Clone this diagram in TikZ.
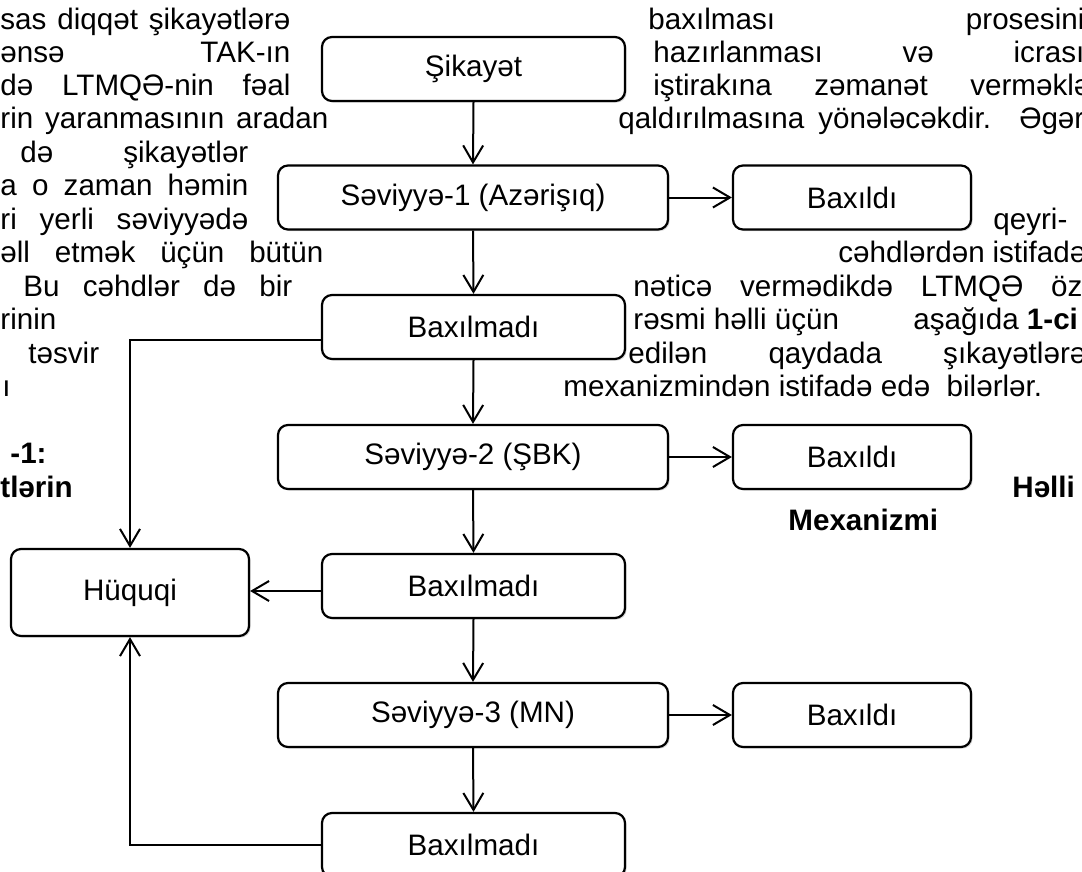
\documentclass[tikz,border=0pt]{standalone}
\usepackage{fontspec}
\setmainfont{Liberation Sans}
\usetikzlibrary{arrows.meta,shadows}

\begin{document}
\begin{tikzpicture}[x=0.5pt,y=-0.5pt,font=\fontsize{14.8}{17}\selectfont,
	box/.style={draw,line width=1.1pt,rounded corners=5pt,fill=white,minimum height=32pt,
		drop shadow={shadow xshift=0.8pt,shadow yshift=-0.8pt,fill=black!30}},
	arr/.style={line width=1pt,-{Straight Barb[length=8.5pt,width=10pt]}},
	txt/.style={inner sep=0pt,anchor=mid west}]
\useasboundingbox (0,0) rectangle (1082,872);

% text of the page round the chart (justified lines)
\foreach \xa/\xb/\yy/\words [count=\n, evaluate=\xb as \w using (\xb-\xa)/2] in
	{0/290/24/sas diqqət şikayətlərə, 0/290/57/ənsə TAK-ın, 0/290/90/də LTMQƏ-nin fəal,
	 0/328/123/rin yaranmasının aradan, 20/248/157/də şikayətlər, 0/248/190/a o zaman həmin,
	 0/248/224/ri yerli səviyyədə, 0/323/257/əll etmək üçün bütün, 23/292/291/Bu cəhdlər də bir,
	 648/1084/24/baxılması prosesini, 653/1084/57/hazırlanması və icrası,
	 653/1090/90/iştirakına zəmanət verməklə, 618/1084/123/qaldırılmasına yönələcəkdir. Əgər,
	 838/1086/257/cəhdlərdən istifadə, 633/1082/291/nəticə vermədikdə LTMQƏ öz,
	 628/1086/358/edilən qaydada şıkayətlərə}
	\node[txt] (T\n) at (\xa,\yy) {\makebox[\w pt][s]{\words}};

% loose words
\foreach \xa/\yy/\words [count=\n] in
	{0/324/rinin, 28/358/təsvir, 2/391/ı, 993/224/qeyri-,
	 633/324/rəsmi həlli üçün, 913/324/aşağıda \textbf{1-ci},
	 563/391/mexanizmindən istifadə edə~ bilərlər.,
	 10/458/\textbf{-1:}, 0/492/\textbf{tlərin}, 1012/492/\textbf{Həlli}, 788/525/\textbf{Mexanizmi}}
	\node[txt] (W\n) at (\xa,\yy) {\words};

% chart
\node[box,minimum width=151.5pt] (S) at (473.5,69) {Şikayət};
\node[box,minimum width=195pt] (L1) at (473,197.5) {Səviyyə-1 (Azərişıq)};
\node[box,minimum width=151.5pt] (M1) at (473.5,327) {Baxılmadı};
\node[box,minimum width=195pt] (L2) at (473,457) {Səviyyə-2 (ŞBK)};
\node[box,minimum width=151.5pt] (M2) at (473.5,586) {Baxılmadı};
\node[box,minimum width=195pt] (L3) at (473,715) {Səviyyə-3 (MN)};
\node[box,minimum width=151.5pt] (M3) at (473.5,845) {Baxılmadı};
\foreach \yy [count=\n] in {197.5,457,715}
	\node[box,minimum width=119pt] (B\n) at (852,\yy) {Baxıldı};
\node[box,minimum width=119pt,minimum height=43.5pt] (H) at (130,592.5) {Hüquqi};

\draw[arr] (S.south) -- (L1.north);
\draw[arr] (L1.south) -- (M1.north);
\draw[arr] (M1.south) -- (L2.north);
\draw[arr] (L2.south) -- (M2.north);
\draw[arr] (M2.south) -- (L3.north);
\draw[arr] (L3.south) -- (M3.north);
\draw[arr] (L1) -- (B1);
\draw[arr] (L2) -- (B2);
\draw[arr] (L3) -- (B3);
\draw[arr] ([yshift=-6.5pt]M1.west) -| (H.north);
\draw[arr] ([yshift=-2.5pt]M2.west) -- ([yshift=-2.5pt]M2.west -| H.east);
\draw[arr] (M3.west) -| (H.south);
\end{tikzpicture}
\end{document}
